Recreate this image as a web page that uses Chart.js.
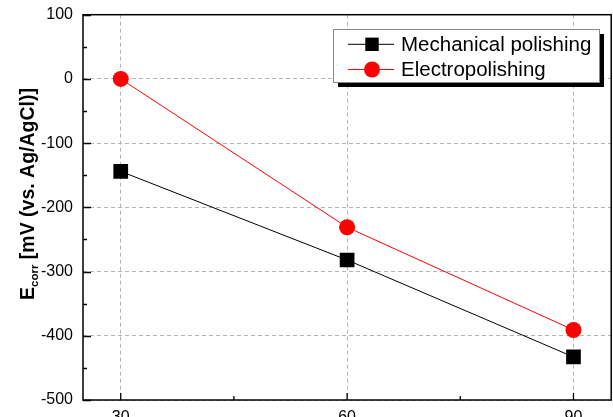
<!DOCTYPE html>
<html>
<head>
<meta charset="utf-8">
<script src="https://cdn.jsdelivr.net/npm/chart.js@4.4.0/dist/chart.umd.min.js"></script>
<style>
html,body{margin:0;padding:0;background:#fff;overflow:hidden;}
canvas{display:block;}
</style>
</head>
<body>
<canvas id="c" width="613" height="417"></canvas>
<script>
const times = [30, 60, 90];
const mechanical = [-144, -282, -433];
const electro = [0, -231, -391];
const xTicks = [30, 60, 90];
const xMinorTicks = [45, 75];
const seriesNames = ['Mechanical polishing', 'Electropolishing'];
const yTitleMain = 'E';
const yTitleSub = 'corr';
const yTitleRest = ' [mV (vs. Ag/AgCl)]';

const F = 'Arial, "Liberation Sans", sans-serif';

const framePlugin = {
  id: 'frame',
  afterDraw(chart) {
    const {ctx, chartArea: a, scales: {x, y}} = chart;
    ctx.save();
    ctx.strokeStyle = '#000';
    ctx.lineWidth = 1.5;
    ctx.strokeRect(a.left, a.top, a.right - a.left, a.bottom - a.top);
    ctx.lineWidth = 1.3;
    ctx.beginPath();
    for (let v = y.min; v <= y.max; v += 50) {
      const py = Math.round(y.getPixelForValue(v)) + 0.5;
      const len = (Math.round(v) % 100 === 0) ? 8 : 4;
      ctx.moveTo(a.left, py); ctx.lineTo(a.left + len, py);
    }
    xTicks.forEach(v => { const px = x.getPixelForValue(v); ctx.moveTo(px, a.bottom); ctx.lineTo(px, a.bottom - 7); });
    xMinorTicks.forEach(v => { const px = x.getPixelForValue(v); ctx.moveTo(px, a.bottom); ctx.lineTo(px, a.bottom - 4); });
    ctx.stroke();

    // y title
    ctx.save();
    ctx.translate(27, 194);
    ctx.rotate(-Math.PI / 2);
    ctx.fillStyle = '#000';
    ctx.textBaseline = 'alphabetic';
    const big = 'bold 19.5px ' + F, small = 'bold 11.5px ' + F;
    ctx.font = big; const w1 = ctx.measureText(yTitleMain).width; const w3 = ctx.measureText(yTitleRest).width;
    ctx.font = small; const w2 = ctx.measureText(yTitleSub).width;
    let sx = -(w1 + w2 + w3) / 2;
    ctx.font = big; ctx.fillText(yTitleMain, sx, 6.5); sx += w1;
    ctx.font = small; ctx.fillText(yTitleSub, sx, 10.5); sx += w2;
    ctx.font = big; ctx.fillText(yTitleRest, sx, 6.5);
    ctx.restore();

    // legend
    const bx = 333, by = 29, bw = 266, bh = 53;
    ctx.fillStyle = '#000';
    ctx.fillRect(bx + 5, by + 5, bw, bh);
    ctx.fillStyle = '#fff';
    ctx.fillRect(bx, by, bw, bh);
    ctx.strokeStyle = '#888';
    ctx.lineWidth = 1;
    ctx.strokeRect(bx + 0.5, by + 0.5, bw, bh);
    chart.data.datasets.forEach((ds, i) => {
      const ly = [44.3, 69.5][i];
      ctx.strokeStyle = ds.borderColor;
      ctx.lineWidth = 1;
      ctx.beginPath(); ctx.moveTo(348, ly); ctx.lineTo(394, ly); ctx.stroke();
      ctx.fillStyle = ds.pointBackgroundColor;
      if (ds.pointStyle === 'rect') {
        ctx.fillRect(372 - 6.7, ly - 6.7, 13.4, 13.4);
      } else {
        ctx.beginPath(); ctx.arc(372, ly, 8, 0, Math.PI * 2); ctx.fill();
      }
      ctx.fillStyle = '#000';
      ctx.font = '20.5px ' + F;
      ctx.textBaseline = 'middle';
      ctx.fillText(ds.label, 401, ly + 1);
    });
    ctx.restore();
  }
};

const zeroPad = s => { s.paddingTop = 0; s.paddingBottom = 0; s.paddingLeft = 0; s.paddingRight = 0; };

new Chart(document.getElementById('c'), {
  type: 'line',
  data: {
    datasets: [
      {
        label: seriesNames[0],
        data: times.map((t, i) => ({x: t, y: mechanical[i]})),
        borderColor: '#000', backgroundColor: '#000',
        pointBackgroundColor: '#000', pointBorderColor: '#000',
        borderWidth: 1, pointStyle: 'rect', pointRadius: 10.4, pointBorderWidth: 0,
        tension: 0
      },
      {
        label: seriesNames[1],
        data: times.map((t, i) => ({x: t, y: electro[i]})),
        borderColor: '#ff0000', backgroundColor: '#ff0000',
        pointBackgroundColor: '#ff0000', pointBorderColor: '#ff0000',
        borderWidth: 1, pointStyle: 'circle', pointRadius: 8, pointBorderWidth: 0,
        tension: 0
      }
    ]
  },
  options: {
    responsive: false,
    animation: false,
    events: [],
    layout: {autoPadding: false, padding: {top: 14.7, right: 1.8, left: 0, bottom: 0}},
    plugins: {legend: {display: false}, tooltip: {enabled: false}},
    scales: {
      x: {
        type: 'linear', min: 25, max: 95,
        afterBuildTicks: s => { s.ticks = xTicks.map(v => ({value: v})); },
        afterFit: s => { s.height = 17; zeroPad(s); },
        grid: {color: '#b4b4b4', lineWidth: 1, drawTicks: false},
        border: {display: false, dash: [4, 3]},
        ticks: {color: '#000', font: {family: F, size: 16}, padding: 8, maxRotation: 0}
      },
      y: {
        min: -500, max: 100,
        afterFit: s => { s.width = 83; zeroPad(s); },
        grid: {color: '#b4b4b4', lineWidth: 1, drawTicks: false},
        border: {display: false, dash: [4, 3]},
        ticks: {stepSize: 100, color: '#000', font: {family: F, size: 16}, padding: 10}
      }
    }
  },
  plugins: [framePlugin]
});
</script>
</body>
</html>
